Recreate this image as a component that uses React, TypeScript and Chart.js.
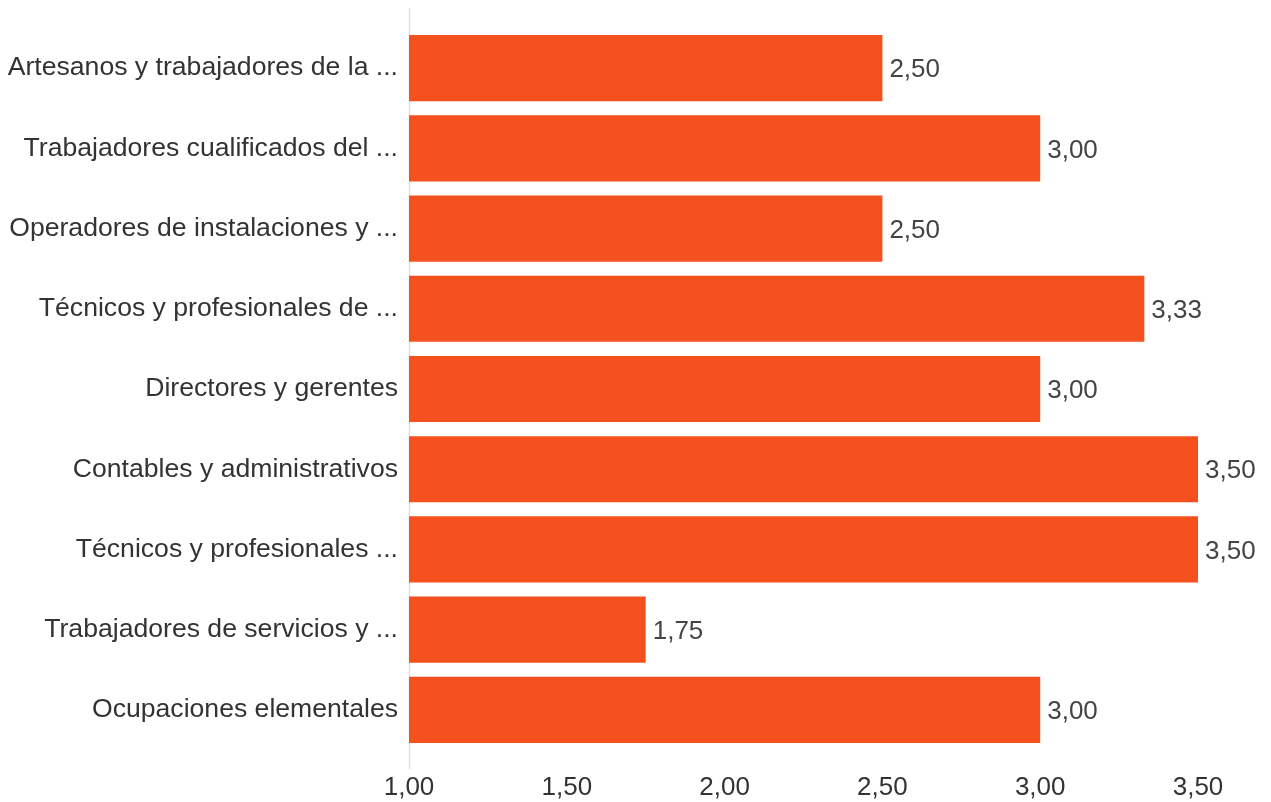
import React, { useEffect, useRef } from "react";
import { Chart, registerables } from "chart.js";
Chart.register(...registerables);

const categories = [
  "Artesanos y trabajadores de la ...",
  "Trabajadores cualificados del ...",
  "Operadores de instalaciones y ...",
  "Técnicos y profesionales de ...",
  "Directores y gerentes",
  "Contables y administrativos",
  "Técnicos y profesionales ...",
  "Trabajadores de servicios y ...",
  "Ocupaciones elementales",
];
const values = [2.5, 3.0, 2.5, 3.33, 3.0, 3.5, 3.5, 1.75, 3.0];
const xMin = 1;
const xMax = 3.5;
const xStep = 0.5;

const FONT = "'Liberation Sans', Arial, sans-serif";
const fmt = (v: number) => v.toFixed(2).replace(".", ",");

const axisLinePlugin = {
  id: "axisLine",
  beforeDatasetsDraw(chart: any) {
    const { ctx, chartArea, scales } = chart;
    const x = Math.round(scales.x.getPixelForValue(xMin)) + 0.5;
    ctx.save();
    ctx.strokeStyle = "#e0e0e0";
    ctx.lineWidth = 1.5;
    ctx.beginPath();
    ctx.moveTo(x, chartArea.top - 20);
    ctx.lineTo(x, chartArea.bottom + 19);
    ctx.stroke();
    ctx.restore();
  },
};

const valueLabelPlugin = {
  id: "valueLabels",
  afterDatasetsDraw(chart: any) {
    const { ctx } = chart;
    const meta = chart.getDatasetMeta(0);
    ctx.save();
    ctx.font = `26px ${FONT}`;
    ctx.fillStyle = "#444444";
    ctx.textAlign = "left";
    ctx.textBaseline = "middle";
    meta.data.forEach((bar: any, i: number) => {
      ctx.fillText(fmt(values[i]), bar.x + 7, bar.y + 2);
    });
    ctx.restore();
  },
};

export default function App() {
  const ref = useRef<HTMLCanvasElement | null>(null);
  useEffect(() => {
    if (!ref.current) return;
    const chart = new Chart(ref.current, {
      type: "bar",
      data: {
        labels: categories,
        datasets: [
          {
            data: values,
            backgroundColor: "#F4511E",
            borderWidth: 0,
            barPercentage: 0.825,
            categoryPercentage: 1,
          },
        ],
      },
      options: {
        indexAxis: "y",
        animation: false,
        responsive: true,
        maintainAspectRatio: false,
        layout: { padding: { top: 28, right: 73, bottom: 0, left: 0 } },
        plugins: { legend: { display: false }, tooltip: { enabled: false } },
        scales: {
          x: {
            type: "linear",
            min: xMin,
            max: xMax,
            ticks: {
              stepSize: xStep,
              callback: (v: any) => fmt(Number(v)),
              font: { family: FONT, size: 26 },
              color: "#333333",
              padding: 22,
              maxRotation: 0,
            },
            grid: { display: false, drawTicks: false },
            border: { display: false },
            afterFit: (s: any) => {
              s.height = 52;
            },
          },
          y: {
            ticks: {
              font: { family: FONT, size: 26.6 },
              color: "#333333",
              padding: 11,
            },
            grid: { display: false, drawTicks: false },
            border: { display: false },
            afterFit: (s: any) => {
              s.width = 409;
            },
          },
        },
      },
      plugins: [axisLinePlugin, valueLabelPlugin],
    } as any);
    return () => chart.destroy();
  }, []);
  return (
    <div style={{ position: "fixed", left: 0, top: 0, width: 1271, height: 802 }}>
      <canvas ref={ref} />
    </div>
  );
}
